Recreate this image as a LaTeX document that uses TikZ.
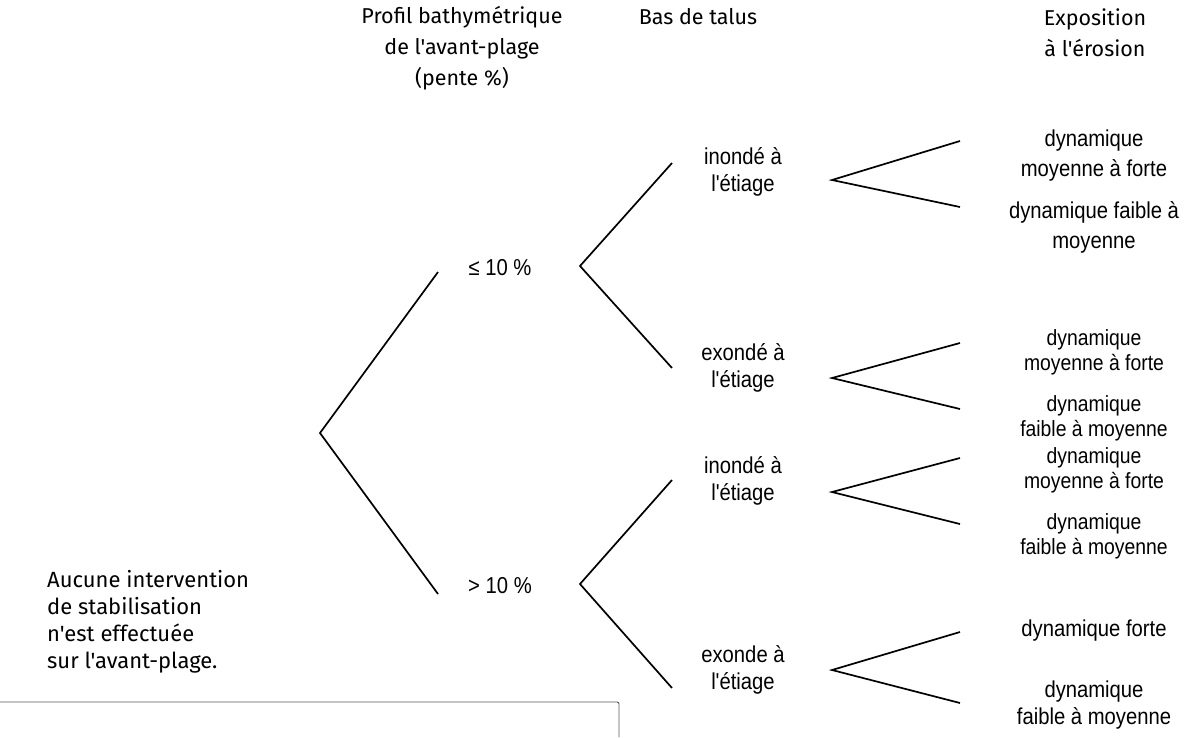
\documentclass[tikz,border=0pt]{standalone}
\usepackage{fontspec}
\usepackage{tikz}
\usetikzlibrary{positioning}
\setmainfont{Liberation Sans}
\newfontfamily\handfont{Fira Sans}
\newfontfamily\condfont[FakeStretch=0.88]{Liberation Sans}
\tikzstyle{branch} = [
    line width=1.7pt,
    draw=black
]
\tikzstyle{head} = [
    align=center,
    font=\handfont\fontsize{21.5}{31}\selectfont
]
\tikzstyle{slope} = [
    font=\condfont\fontsize{23}{26}\selectfont
]
\tikzstyle{talus} = [
    align=center,
    font=\condfont\fontsize{23}{27}\selectfont
]
\tikzstyle{expo} = [
    align=center,
    font=\condfont\fontsize{22}{25}\selectfont
]
\begin{document}
\begin{tikzpicture}[
                x=1pt, y=-1pt,
                every node/.style={inner sep=0pt}
            ]
                \useasboundingbox (0,0) rectangle (1185,737);
                \node[head] (hprofil) at (462,48) {Profil bathymétrique\\de l'avant-plage\\(pente \%)};
                \node[head] (htalus) at (698,17) {Bas de talus};
                \node[head] (hexpo) at (1095,33) {Exposition\\à l'érosion};
                \node[head, align=left, anchor=west, font=\handfont\fontsize{22}{27}\selectfont] (note) at (47,622) {Aucune intervention\\de stabilisation\\n'est effectuée\\sur l'avant-plage.};
                \node[slope] (le) at (500,268) {≤ 10 \%};
                \node[slope] (gt) at (500,586) {> 10 \%};
                \node[talus] (t1) at (743,172) {inondé à\\l'étiage};
                \node[talus] (t2) at (743,368) {exondé à\\l'étiage};
                \node[talus] (t3) at (743,481) {inondé à\\l'étiage};
                \node[talus] (t4) at (743,670) {exonde à\\l'étiage};
                \node[expo, font=\condfont\fontsize{23}{30}\selectfont] (e1) at (1094,156) {dynamique\\moyenne à forte};
                \node[expo, font=\condfont\fontsize{23}{30}\selectfont] (e2) at (1094,227) {dynamique faible à\\moyenne};
                \node[expo] (e3) at (1094,352) {dynamique\\moyenne à forte};
                \node[expo] (e4) at (1094,418) {dynamique\\faible à moyenne};
                \node[expo] (e5) at (1094,470) {dynamique\\moyenne à forte};
                \node[expo] (e6) at (1094,536) {dynamique\\faible à moyenne};
                \node[expo, font=\condfont\fontsize{23}{27}\selectfont] (e7) at (1094,631) {dynamique forte};
                \node[expo, font=\condfont\fontsize{23}{27}\selectfont] (e8) at (1094,705) {dynamique\\faible à moyenne};
                \coordinate (root) at (320,433);
                \coordinate (le-in) at (438,272);
                \coordinate (gt-in) at (438,594);
                \coordinate (le-out) at (580,266);
                \coordinate (gt-out) at (580,584);
                \coordinate (t1-in) at (672,163);
                \coordinate (t2-in) at (672,368);
                \coordinate (t3-in) at (672,480);
                \coordinate (t4-in) at (672,688);
                \draw[branch] (le-in) -- (root) -- (gt-in);
                \draw[branch] (t1-in) -- (le-out) -- (t2-in);
                \draw[branch] (t3-in) -- (gt-out) -- (t4-in);
                \foreach \t/\y/\ya/\yb in {t1/180/141/207, t2/378/343/409, t3/492/458/524, t4/670/632/703} {
                    \coordinate (\t-out) at (832,\y);
                    \coordinate (\t-up) at (960,\ya);
                    \coordinate (\t-down) at (960,\yb);
                    \draw[branch] (\t-up) -- (\t-out) -- (\t-down);
                }
                \draw[line width=0.9pt, gray!70!black, rounded corners=2pt] (0,702) -- (619,702) -- (619,737);
            \end{tikzpicture}
\end{document}
